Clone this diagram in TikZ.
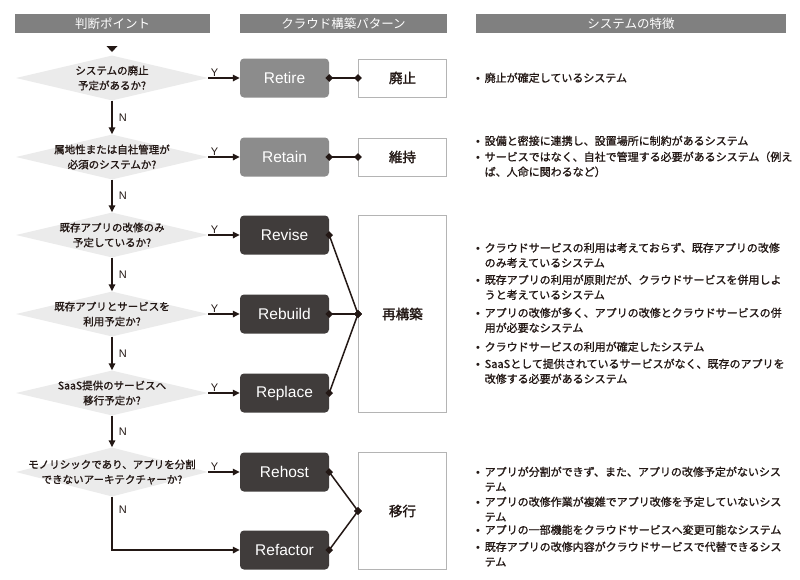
\documentclass[tikz,border=0pt]{standalone}
\usepackage{fontspec}
\setmainfont{Noto Sans CJK JP}[RawFeature={embolden=1.2}]
\newfontfamily\latinfont{Liberation Sans}
\newfontfamily\boldjp[RawFeature={embolden=2}]{Noto Sans CJK JP}
\newfontfamily\headjp{Noto Sans CJK JP}
\usepackage{tikz}
\usetikzlibrary{arrows.meta,positioning,shapes.geometric}
\definecolor{Head}{HTML}{808080}
\definecolor{MidGray}{HTML}{8C8C8C}
\definecolor{Dark}{HTML}{403C3B}
\definecolor{Pale}{HTML}{EBEBEB}
\definecolor{Frame}{HTML}{B4B4B4}
\definecolor{Ink}{HTML}{231815}
\newcommand{\feat}[1]{\begin{tabular}[t]{@{}l@{}l@{}}\makebox[8.5pt][l]{\latinfont\textbullet}&#1\end{tabular}}

\begin{document}
\begin{tikzpicture}[x=1pt,y=-1pt,
  head/.style={fill=Head,text=white,minimum height=19pt,inner sep=0pt,font=\headjp\fontsize{12.5}{14}\selectfont},
  decision/.style={diamond,fill=Pale,minimum width=192pt,minimum height=45pt,inner sep=0pt},
  qtext/.style={align=center,text=Ink,font=\fontsize{10.5}{15}\selectfont},
  pat/.style={rounded corners=4pt,minimum width=89pt,minimum height=39pt,inner sep=0pt,text=white,font=\latinfont\fontsize{15.5}{18}\selectfont},
  patA/.style={pat,fill=MidGray},
  patB/.style={pat,fill=Dark},
  cat/.style={draw=Frame,line width=1pt,fill=white,minimum width=88pt,inner sep=0pt,text=Ink,font=\boldjp\fontsize{13.5}{16}\selectfont},
  yes/.style={line width=1.5pt,draw=Ink,-{Triangle[length=7pt,width=6.5pt]}},
  link/.style={line width=1.5pt,draw=Ink},
  yn/.style={text=Ink,inner sep=1pt,font=\latinfont\fontsize{11}{12}\selectfont},
  feat/.style={anchor=base west,inner sep=0pt,text=Ink,font=\fontsize{11}{15}\selectfont}]
  \path[fill=white] (0,0) rectangle (800,579);

  \node[head,minimum width=195pt] (hq) at (112.5,23.5) {判断ポイント};
  \node[head,minimum width=207pt] (hp) at (343.5,23.5) {クラウド構築パターン};
  \node[head,minimum width=310pt] (hf) at (631,23.5) {システムの特徴};

  \fill[Ink] (106.5,46) -- (117.5,46) -- (112,52) -- cycle;

  \node[decision,label={[qtext]center:{システムの廃止\\予定があるか?}}] (q1) at (112,78) {};
  \node[decision,label={[qtext]center:{属地性または自社管理が\\必須のシステムか?}}] (q2) at (112,157) {};
  \node[decision,label={[qtext]center:{既存アプリの改修のみ\\予定しているか?}}] (q3) at (112,235) {};
  \node[decision,label={[qtext]center:{既存アプリとサービスを\\利用予定か?}}] (q4) at (112,314) {};
  \node[decision,label={[qtext]center:{SaaS提供のサービスへ\\移行予定か?}}] (q5) at (112,393) {};
  \node[decision,minimum height=49pt,label={[qtext]center:{モノリシックであり、アプリを分割\\できないアーキテクチャーか?}}] (q6) at (112,472) {};

  \node[patA] (p1) at (284.5,78) {Retire};
  \node[patA] (p2) at (284.5,157) {Retain};
  \node[patB] (p3) at (284.5,235) {Revise};
  \node[patB] (p4) at (284.5,314) {Rebuild};
  \node[patB] (p5) at (284.5,393) {Replace};
  \node[patB] (p6) at (284.5,472) {Rehost};
  \node[patB] (p7) at (284.5,550) {Refactor};

  \node[cat,minimum height=38pt] (c1) at (402.5,78) {廃止};
  \node[cat,minimum height=38pt] (c2) at (402.5,157) {維持};
  \node[cat,minimum height=197pt] (c3) at (402.5,314) {再構築};
  \node[cat,minimum height=117pt] (c4) at (402.5,511) {移行};

  \foreach \a/\b in {q1/q2,q2/q3,q3/q4,q4/q5,q5/q6}
    \draw[yes] (\a) -- (\b) node[yn,midway,right=5pt]{N};
  \foreach \q/\p in {q1/p1,q2/p2,q3/p3,q4/p4,q5/p5,q6/p6}
    \draw[yes] (\q) -- (\p) node[yn,pos=0.2,above]{Y};
  \draw[yes] (q6.south) |- (p7.west) node[yn,pos=0.12,right=5pt]{N};

  \foreach \s/\t in {p1/c1,p2/c2,p3/c3,p4/c3,p5/c3,p6/c4,p7/c4}{
    \draw[link] (\s.east) -- (\t.west);
    \fill[Ink] (\s.east) +(-3.8,0) -- +(0,-3.8) -- +(3.8,0) -- +(0,3.8) -- cycle;
    \fill[Ink] (\t.west) +(-3.8,0) -- +(0,-3.8) -- +(3.8,0) -- +(0,3.8) -- cycle;
  }

  \node[feat] (f1) at (476,82) {\feat{廃止が確定しているシステム}};
  \node[feat] (f2) at (476,145) {\feat{設備と密接に連携し、設置場所に制約があるシステム}};
  \node[feat] (f3) at (476,161) {\feat{サービスではなく、自社で管理する必要があるシステム（例え\\&ば、人命に関わるなど）}};
  \node[feat] (f4) at (476,252) {\feat{クラウドサービスの利用は考えておらず、既存アプリの改修\\&のみ考えているシステム}};
  \node[feat] (f5) at (476,284) {\feat{既存アプリの利用が原則だが、クラウドサービスを併用しよ\\&うと考えているシステム}};
  \node[feat] (f6) at (476,317) {\feat{アプリの改修が多く、アプリの改修とクラウドサービスの併\\&用が必要なシステム}};
  \node[feat] (f7) at (476,351) {\feat{クラウドサービスの利用が確定したシステム}};
  \node[feat] (f8) at (476,368) {\feat{SaaSとして提供されているサービスがなく、既存のアプリを\\&改修する必要があるシステム}};
  \node[feat] (f9) at (476,476) {\feat{アプリが分割ができず、また、アプリの改修予定がないシス\\&テム}};
  \node[feat] (f10) at (476,506) {\feat{アプリの改修作業が複雑でアプリ改修を予定していないシス\\&テム}};
  \node[feat] (f11) at (476,534) {\feat{アプリの一部機能をクラウドサービスへ変更可能なシステム}};
  \node[feat] (f12) at (476,551) {\feat{既存アプリの改修内容がクラウドサービスで代替できるシス\\&テム}};
\end{tikzpicture}
\end{document}
